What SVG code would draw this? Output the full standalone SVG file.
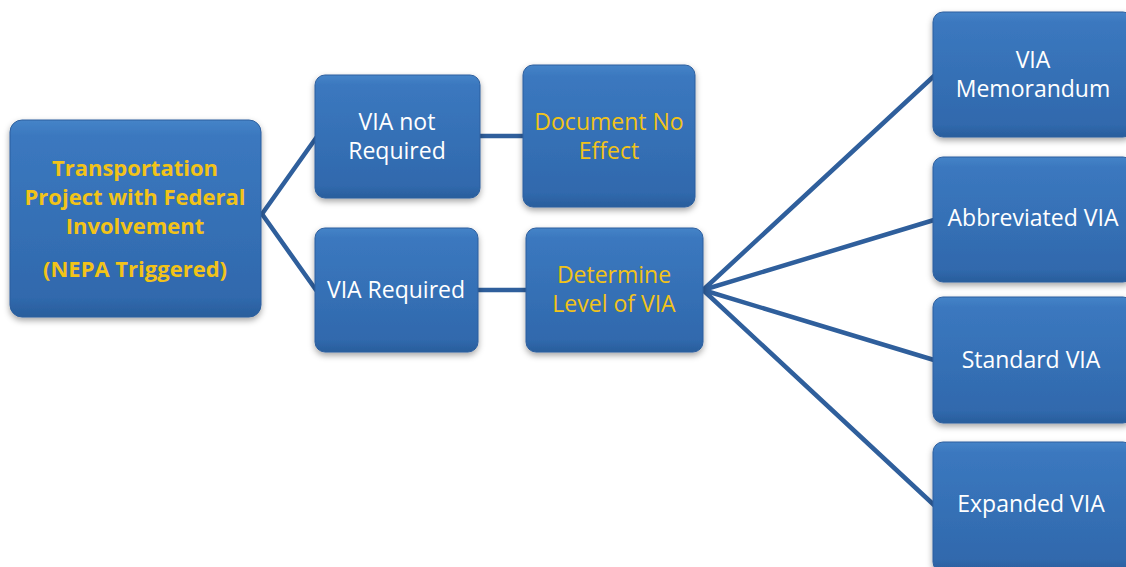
<svg xmlns="http://www.w3.org/2000/svg" width="1126" height="567" viewBox="0 0 1126 567">
<defs>
<linearGradient id="g" x1="0" y1="0" x2="0" y2="1">
<stop offset="0" stop-color="#4584c8"/>
<stop offset="0.08" stop-color="#3b78bf"/>
<stop offset="0.9" stop-color="#3069ad"/>
<stop offset="1" stop-color="#2a5e9c"/>
</linearGradient>
<filter id="sh" x="-10%" y="-10%" width="120%" height="125%">
<feDropShadow dx="0" dy="3" stdDeviation="3" flood-color="#000" flood-opacity="0.35"/>
</filter>
<style>
.box{fill:url(#g);stroke:#2d5f9e;stroke-width:1;filter:url(#sh)}
.w{fill:#ffffff;font-family:"Open Sans","Liberation Sans",sans-serif;font-size:23px;text-anchor:middle}
.y{fill:#f2c318;font-family:"Open Sans","Liberation Sans",sans-serif;font-size:23px;text-anchor:middle}
.b{font-weight:bold;font-size:22px}
.c{stroke:#2f5f9c;stroke-width:4.5;fill:none;stroke-linecap:round}
</style>
</defs>
<rect width="1126" height="567" fill="#ffffff"/>
<g id="connectors">
<line class="c" x1="262" y1="214" x2="316" y2="138"/>
<line class="c" x1="262" y1="214" x2="316" y2="290"/>
<line class="c" x1="480" y1="136" x2="524" y2="136"/>
<line class="c" x1="478" y1="290" x2="527" y2="290"/>
<line class="c" x1="703" y1="290" x2="934" y2="76"/>
<line class="c" x1="703" y1="290" x2="934" y2="220"/>
<line class="c" x1="703" y1="290" x2="934" y2="360"/>
<line class="c" x1="703" y1="290" x2="934" y2="505"/>
</g>
<g id="n-project">
<rect class="box" x="10" y="120" width="251" height="197" rx="12"/>
<text class="y b" x="135" y="176">Transportation</text>
<text class="y b" x="135" y="205">Project with Federal</text>
<text class="y b" x="135" y="234">Involvement</text>
<text class="y b" x="135" y="277">(NEPA Triggered)</text>
</g>
<g id="n-not-required">
<rect class="box" x="315" y="75" width="165" height="123" rx="10"/>
<text class="w" x="397" y="130">VIA not</text>
<text class="w" x="397" y="159">Required</text>
</g>
<g id="n-document">
<rect class="box" x="523" y="65" width="172" height="142" rx="10"/>
<text class="y" x="609" y="130">Document No</text>
<text class="y" x="609" y="159">Effect</text>
</g>
<g id="n-required">
<rect class="box" x="315" y="228" width="163" height="124" rx="10"/>
<text class="w" x="396" y="298">VIA Required</text>
</g>
<g id="n-determine">
<rect class="box" x="526" y="228" width="177" height="124" rx="10"/>
<text class="y" x="614" y="283">Determine</text>
<text class="y" x="614" y="312">Level of VIA</text>
</g>
<g id="n-memo">
<rect class="box" x="933" y="12" width="200" height="125" rx="10"/>
<text class="w" x="1033" y="68">VIA</text>
<text class="w" x="1033" y="97">Memorandum</text>
</g>
<g id="n-abbrev">
<rect class="box" x="933" y="157" width="200" height="125" rx="10"/>
<text class="w" x="1033" y="226">Abbreviated VIA</text>
</g>
<g id="n-standard">
<rect class="box" x="933" y="297" width="200" height="126" rx="10"/>
<text class="w" x="1031" y="368">Standard VIA</text>
</g>
<g id="n-expanded">
<rect class="box" x="933" y="442" width="200" height="130" rx="10"/>
<text class="w" x="1031" y="512">Expanded VIA</text>
</g>
</svg>
